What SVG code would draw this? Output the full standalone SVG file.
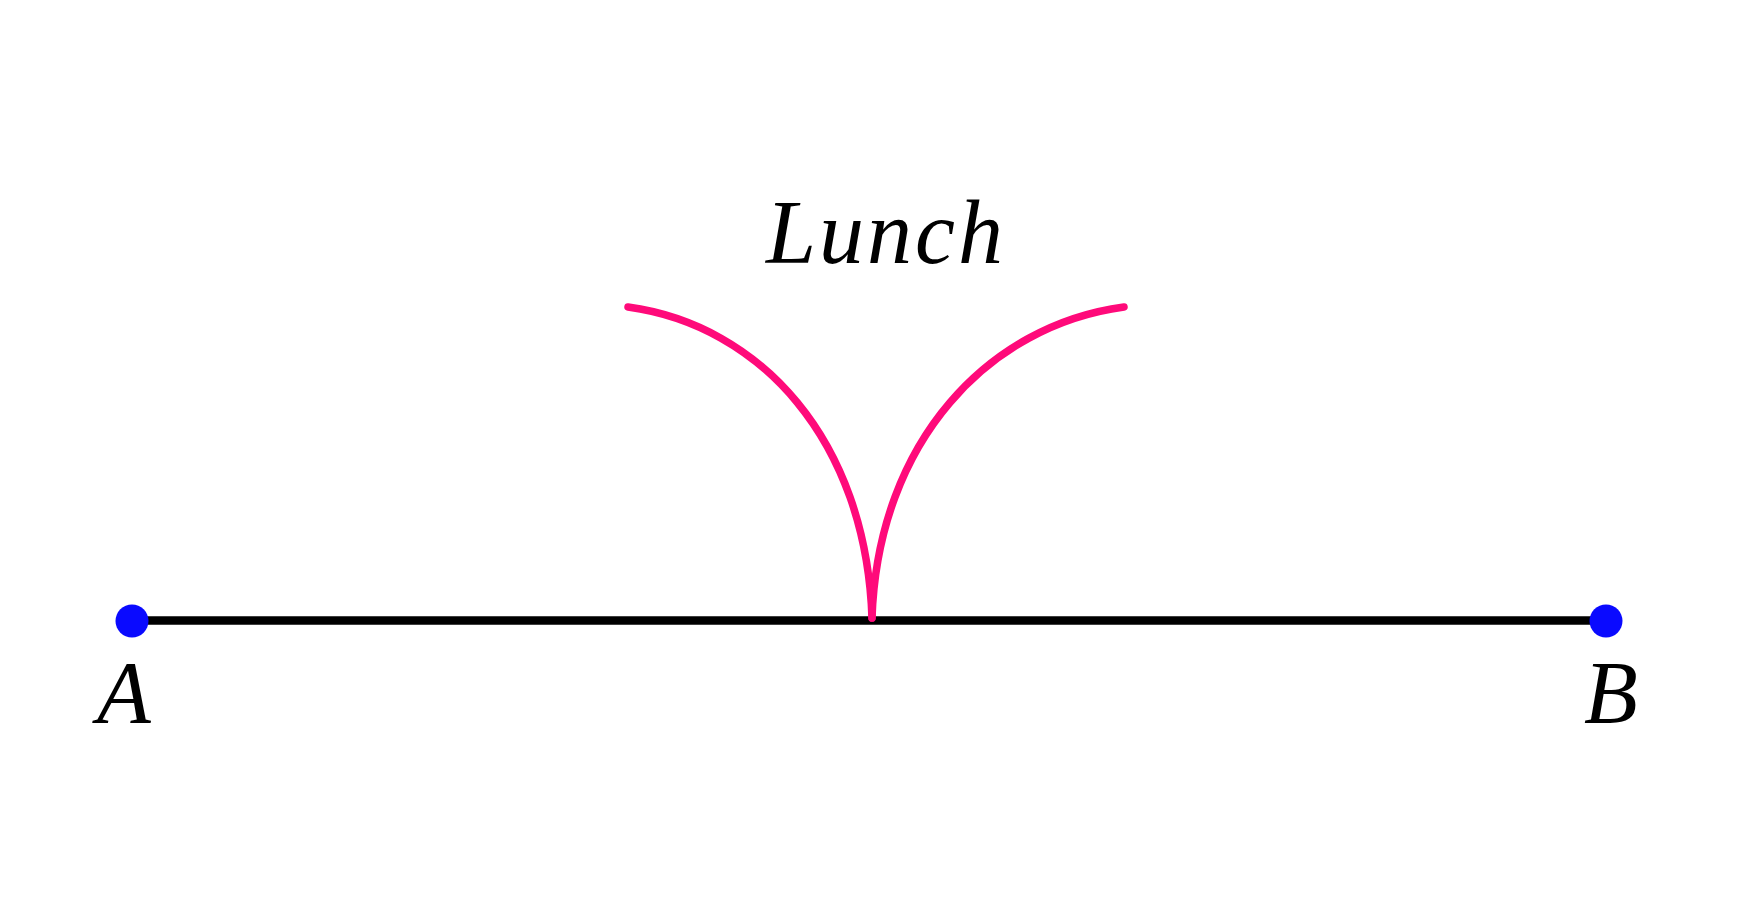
<svg xmlns="http://www.w3.org/2000/svg" width="1738" height="905" viewBox="0 0 1738 905">
<style>
.lbl{font-family:"Liberation Serif","Times New Roman",serif;font-style:italic;fill:#000}
.pink{fill:none;stroke:#ff0a7a;stroke-width:7.5;stroke-linecap:round}
.pt{fill:#0a0aff}
</style>
<rect width="1738" height="905" fill="#ffffff"/>
<g id="connectors">
<line x1="132" y1="620.5" x2="1606" y2="620.5" stroke="#000" stroke-width="8.5"/>
<path class="pink" d="M628,307 C760,325 866,440 872,618"/>
<path class="pink" d="M872,618 C878,440 990,325 1124,307"/>
</g>
<g id="A"><circle class="pt" cx="132" cy="621" r="16.5"/><text class="lbl" x="124" y="722" font-size="88" text-anchor="middle">A</text></g>
<g id="B"><circle class="pt" cx="1606" cy="621" r="16.5"/><text class="lbl" x="1611" y="722" font-size="88" text-anchor="middle">B</text></g>
<g id="lunch"><text class="lbl" x="886" y="263" font-size="90" letter-spacing="3" text-anchor="middle">Lunch</text></g>
</svg>
